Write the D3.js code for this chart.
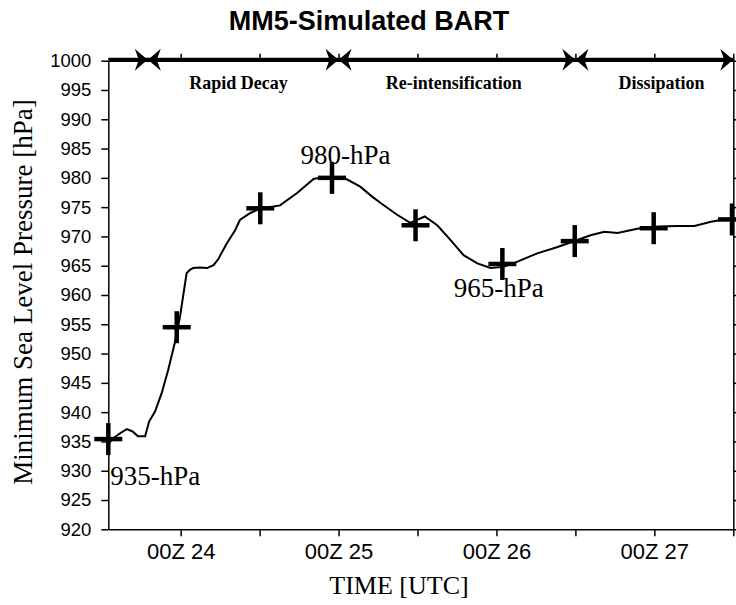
<!DOCTYPE html>
<meta charset="utf-8">
<title>MM5-Simulated BART</title>
<style>
body { margin: 0; background: #fff; }
text { fill: #000; }
</style>
<body>
<script src="https://d3js.org/d3.v7.min.js"></script>
<script>

// hours relative to 00Z 24
let curveHours = [-11, -10.3, -9.2, -8.2, -7.3, -6.5, -5.4, -4.8, -3.9, -2.9, -1.9, -0.9, -0.1,
    0.9, 1.4, 1.9, 2.9, 4.0, 5.0, 5.7, 7.0, 8.3, 9.0, 10.6, 12.1, 14.1, 15.1, 17.7, 20.2, 21.5,
    24.7, 27.3, 29.1, 30.4, 32.9, 34.9, 37.1, 39.0, 41.0, 43.0, 45.1, 47.1, 49.1, 51.2, 54.2,
    57.3, 60.3, 62.3, 64.4, 66.4, 69.4, 72.5, 75.5, 78.1, 80.6, 83.6, 84];
let curvePressure = [934.6, 935.5, 936.4, 937.1, 936.7, 935.9, 935.9, 938.4, 940.1, 943.2, 947.2, 951.8, 956.3,
    963.7, 964.3, 964.6, 964.7, 964.6, 965.1, 966.1, 968.8, 971.1, 972.8, 974.0, 974.8, 975.1, 975.3, 977.4, 979.8, 980.1,
    980.1, 978.5, 976.8, 975.7, 973.7, 972.3, 973.4, 971.9, 969.4, 966.8, 965.4, 964.6, 964.8, 965.7, 967.1,
    968.2, 969.4, 970.2, 970.8, 970.6, 971.3, 971.7, 971.8, 971.8, 972.5, 973.1, 973.2];

let markerHours = [-11, -0.6, 12.1, 23.0, 35.7, 48.9, 59.9, 71.9, 83.8];
let markerPressure = [935.4, 954.5, 974.8, 980.0, 971.9, 965.3, 969.2, 971.4, 972.9];

let yTicks = [920, 925, 930, 935, 940, 945, 950, 955, 960, 965, 970, 975, 980, 985, 990, 995, 1000];
let xTicks = [0, 12, 24, 36, 48, 60, 72, 84];
let xTickLabels = { 0: '00Z 24', 24: '00Z 25', 48: '00Z 26', 72: '00Z 27' };

let phaseNames = ['Rapid Decay', 'Re-intensification', 'Dissipation'];
let phaseStart = [-5, 24, 60];
let phaseEnd = [24, 60, 84];
let phaseLabelHour = [8.8, 41.5, 73.1];

let noteText = ['935-hPa', '980-hPa', '965-hPa'];
let noteHour = [-10.7, 18.2, 41.5];
let notePressure = [927.6, 982.4, 959.7];

let width = 736;
let height = 605;
let plot = { left: 108.3, right: 733.3, top: 60.7, bottom: 529.3 };

let x = d3.scaleLinear().domain([-11, 84]).range([plot.left, plot.right]);
let y = d3.scaleLinear().domain([920, 1000]).range([plot.bottom, plot.top]);

let serif = '"Liberation Serif", "Times New Roman", serif';
let sans = '"Liberation Sans", Arial, sans-serif';

let svg = d3.select('body').append('svg')
    .attr('width', width)
    .attr('height', height);

// title
svg.append('text')
    .attr('x', 369)
    .attr('y', 30)
    .attr('text-anchor', 'middle')
    .style('font-family', sans)
    .style('font-weight', 'bold')
    .style('font-size', '27px')
    .text('MM5-Simulated BART');

// axes
let leftAxis = svg.append('g')
    .attr('transform', `translate(${plot.left},0)`)
    .call(d3.axisLeft(y).tickValues(yTicks).tickSize(7).tickSizeOuter(0).tickPadding(10).tickFormat(d3.format('d')));
leftAxis.selectAll('text').style('font-family', sans).style('font-size', '18.5px');

svg.append('g')
    .attr('transform', `translate(${plot.right},0)`)
    .call(d3.axisLeft(y).tickValues(yTicks).tickSize(-6).tickSizeOuter(0).tickFormat(''));

let bottomAxis = svg.append('g')
    .attr('transform', `translate(0,${plot.bottom})`)
    .call(d3.axisBottom(x).tickValues(xTicks).tickSize(7).tickSizeOuter(0).tickPadding(7)
        .tickFormat(d => xTickLabels[d] || ''));
bottomAxis.selectAll('text').style('font-family', sans).style('font-size', '22px');

svg.append('g')
    .attr('transform', `translate(0,${plot.top})`)
    .call(d3.axisTop(x).tickValues(xTicks).tickSize(7).tickSizeOuter(0).tickFormat(''));

svg.selectAll('.domain, .tick line')
    .attr('stroke', '#000')
    .attr('stroke-width', 1.5);

// axis titles
svg.append('text')
    .attr('transform', `translate(32,292)rotate(-90)`)
    .attr('text-anchor', 'middle')
    .style('font-family', serif)
    .style('font-size', '27px')
    .text('Minimum Sea Level Pressure [hPa]');

svg.append('text')
    .attr('x', 399)
    .attr('y', 594)
    .attr('text-anchor', 'middle')
    .style('font-family', serif)
    .style('font-size', '26px')
    .text('TIME [UTC]');

// pressure curve
let line = d3.line()
    .x((d, i) => x(curveHours[i]))
    .y(d => y(d));

svg.append('path')
    .datum(curvePressure)
    .attr('fill', 'none')
    .attr('stroke', '#000')
    .attr('stroke-width', 2)
    .attr('d', line);

// plus markers
let marks = svg.selectAll('.mark')
    .data(markerPressure)
    .enter().append('g')
        .attr('class', 'mark')
        .attr('transform', (d, i) => `translate(${x(markerHours[i])},${y(d)})`);
marks.append('line')
    .attr('x1', -14).attr('x2', 14)
    .attr('stroke', '#000').attr('stroke-width', 4.5);
marks.append('line')
    .attr('y1', -16).attr('y2', 16)
    .attr('stroke', '#000').attr('stroke-width', 4.5);

// phase arrows along the top
let arrowY = plot.top - 1;
svg.append('line')
    .attr('x1', x(-11)).attr('x2', x(84))
    .attr('y1', arrowY).attr('y2', arrowY)
    .attr('stroke', '#000')
    .attr('stroke-width', 4);

let head = 'M0,0 Q-5,-4 -13,-11 L-9,0 L-13,11 Q-5,4 0,0 Z';
let heads = [];
phaseStart.forEach((s, i) => {
    heads.push({ h: s, dir: -1 });
    heads.push({ h: phaseEnd[i], dir: 1 });
});
heads.push({ h: phaseStart[0], dir: 1 });

svg.selectAll('.head')
    .data(heads)
    .enter().append('path')
        .attr('class', 'head')
        .attr('d', head)
        .attr('fill', '#000')
        .attr('transform', d => `translate(${x(d.h)},${arrowY})scale(${d.dir},1)`);

svg.selectAll('.phase')
    .data(phaseNames)
    .enter().append('text')
        .attr('class', 'phase')
        .attr('x', (d, i) => x(phaseLabelHour[i]))
        .attr('y', 89)
        .attr('text-anchor', 'middle')
        .style('font-family', serif)
        .style('font-weight', 'bold')
        .style('font-size', '18px')
        .text(d => d);

// value notes
svg.selectAll('.note')
    .data(noteText)
    .enter().append('text')
        .attr('class', 'note')
        .attr('x', (d, i) => x(noteHour[i]))
        .attr('y', (d, i) => y(notePressure[i]))
        .style('font-family', serif)
        .style('font-size', '27px')
        .text(d => d);

</script>
</body>
